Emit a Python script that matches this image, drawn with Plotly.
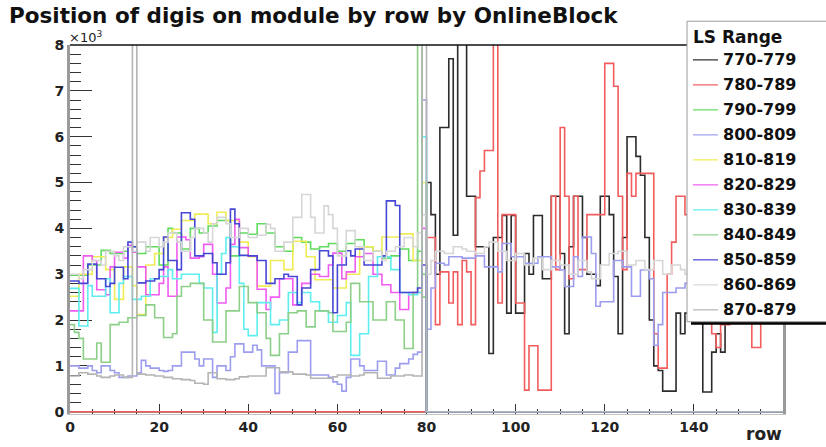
import plotly.graph_objects as go

# Lumi-section ranges, one histogram each
ls_ranges = ["770-779", "780-789", "790-799", "800-809", "810-819", "820-829",
             "830-839", "840-849", "850-859", "860-869", "870-879"]

# Bin edges along the module rows (1 row per bin)
row_edges = list(range(161))

# Digi counts per row, in units of 10^3 (rows 0-79 then rows 80-159)
ZERO_HALF = [0.0] * 80

digis_770 = ZERO_HALF + [
    5.0, 4.3, 3.0, 6.2, 6.2, 7.7, 3.85, 8.4, 8.4, 4.7,
    4.7, 3.6, 3.6, 3.6, 1.27, 3.8, 3.8, 4.28, 2.15, 4.28,
    2.15, 2.15, 3.45, 3.0, 4.28, 4.28, 2.9, 2.9, 4.7, 4.7,
    3.45, 1.7, 3.6, 4.7, 4.7, 3.8, 3.0, 3.0, 2.75, 4.7,
    4.7, 4.3, 2.95, 1.7, 3.8, 6.0, 6.0, 5.57, 5.16, 3.8,
    2.0, 1.0, 0.9, 0.45, 0.45, 0.45, 2.15, 1.7, 2.15, 2.6,
    3.2, 2.15, 0.43, 0.43, 1.3, 1.7, 1.3, 2.4, 3.0, 2.8,
    3.3, 2.6, 3.1, 2.9, 3.4, 2.7, 3.0, 2.5, 2.2, 2.6]

digis_780 = ZERO_HALF + [
    3.8, 3.8, 1.9, 3.05, 3.05, 2.37, 3.05, 1.9, 3.3, 3.05,
    1.9, 4.67, 5.25, 5.7, 5.7, 8.4, 2.37, 4.3, 4.3, 4.3,
    2.37, 2.37, 0.47, 1.44, 1.44, 0.47, 0.47, 0.47, 4.7, 3.1,
    6.2, 4.7, 2.9, 4.7, 3.1, 3.1, 4.3, 4.3, 4.3, 4.3,
    7.6, 7.6, 7.1, 4.7, 3.1, 5.2, 4.7, 5.2, 5.2, 5.2,
    5.2, 1.7, 0.95, 0.95, 3.0, 3.7, 4.7, 4.7, 4.3, 3.0,
    2.5, 3.4, 2.8, 2.2, 1.7, 1.4, 1.9, 1.9, 2.6, 3.0,
    2.4, 2.9, 2.5, 1.4, 1.4, 2.6, 3.1, 2.5, 2.2, 2.4]

digis_790 = [
    2.98, 2.98, 2.98, 2.98, 3.2, 3.2, 3.2, 3.52, 3.52, 3.45,
    3.45, 3.45, 3.5, 3.6, 3.6, 3.45, 3.45, 3.6, 3.6, 3.6,
    3.2, 3.2, 4.0, 3.9, 3.9, 3.55, 3.55, 4.0, 4.0, 3.9,
    3.9, 4.05, 4.05, 4.17, 4.17, 4.17, 3.4, 3.4, 3.9, 3.9,
    3.87, 3.87, 4.1, 4.1, 3.9, 3.9, 3.6, 3.6, 3.5, 3.5,
    3.8, 3.8, 3.7, 3.7, 3.55, 3.55, 3.6, 3.6, 3.67, 3.67,
    3.5, 3.5, 3.67, 3.67, 3.75, 3.75, 3.6, 3.6, 3.5, 3.5,
    3.35, 3.35, 3.4, 3.4, 3.55, 3.55, 3.3, 3.3, 3.5, 3.0] + ZERO_HALF

digis_800 = [
    1.0, 1.0, 0.95, 0.95, 1.0, 0.9, 0.85, 1.0, 1.0, 0.9,
    0.85, 0.75, 0.75, 0.78, 0.78, 0.85, 1.12, 1.0, 0.95, 0.95,
    0.9, 0.88, 0.9, 1.0, 1.0, 1.3, 1.3, 1.3, 1.15, 1.0,
    1.15, 1.15, 0.75, 1.0, 1.0, 0.9, 1.2, 1.48, 1.48, 1.3,
    1.3, 1.45, 1.35, 1.0, 1.0, 1.0, 0.4, 0.85, 0.85, 1.3,
    1.3, 1.55, 1.55, 1.55, 0.8, 0.8, 0.8, 0.8, 0.75, 0.65,
    0.6, 0.45, 0.75, 1.15, 1.15, 1.0, 0.9, 0.9, 0.9, 1.1,
    1.1, 0.8, 0.8, 0.95, 1.05, 1.05, 1.15, 1.25, 1.3, 6.8,
    1.8, 2.7, 3.24, 3.24, 3.2, 3.38, 3.38, 3.38, 3.35, 3.35,
    3.35, 3.4, 3.4, 3.16, 3.16, 3.16, 3.05, 3.67, 3.67, 3.38,
    3.38, 3.38, 3.24, 3.24, 3.24, 3.38, 3.38, 3.38, 3.16, 3.16,
    3.09, 2.73, 2.73, 3.38, 2.95, 3.81, 3.81, 3.45, 2.3, 2.4,
    2.4, 2.4, 3.3, 3.3, 3.16, 3.16, 2.52, 2.52, 3.09, 3.09,
    2.9, 1.45, 1.9, 2.6, 2.6, 2.6, 2.7, 2.7, 2.8, 2.9,
    2.7, 2.6, 2.8, 3.0, 2.7, 2.5, 2.6, 2.8, 2.9, 2.7,
    2.6, 2.5, 2.7, 2.8, 2.6, 2.4, 2.5, 2.7, 2.6, 2.4]

digis_810 = [
    2.52, 2.52, 3.0, 3.0, 3.0, 3.38, 3.38, 3.38, 3.1, 3.1,
    2.45, 2.45, 3.16, 3.16, 2.75, 2.12, 2.12, 3.2, 3.2, 3.45,
    3.45, 3.8, 3.8, 3.98, 3.98, 4.17, 4.17, 4.17, 4.31, 4.31,
    4.31, 4.1, 4.1, 4.35, 4.35, 4.17, 4.17, 4.17, 3.7, 3.7,
    3.38, 3.38, 2.74, 2.74, 2.74, 3.3, 3.3, 3.3, 3.1, 3.1,
    3.72, 3.72, 3.72, 3.38, 3.38, 2.88, 2.88, 2.88, 2.88, 2.7,
    2.7, 2.7, 3.0, 3.0, 3.0, 3.6, 3.6, 3.6, 3.5, 3.5,
    3.81, 3.81, 3.81, 3.81, 3.88, 3.88, 3.88, 3.3, 3.3, 5.0] + ZERO_HALF

digis_820 = [
    2.2, 2.2, 2.2, 3.4, 3.4, 3.3, 2.66, 2.66, 2.55, 3.16,
    3.48, 3.48, 3.35, 3.63, 3.48, 3.16, 3.16, 2.55, 2.55, 2.55,
    2.8, 3.16, 2.52, 2.52, 3.81, 3.81, 3.75, 3.35, 3.35, 3.38,
    3.65, 3.65, 3.0, 2.37, 2.37, 2.7, 3.65, 4.2, 3.58, 3.58,
    3.4, 3.4, 2.67, 2.67, 2.23, 2.5, 2.5, 2.9, 2.9, 2.9,
    2.33, 2.33, 2.8, 2.8, 3.0, 3.0, 2.95, 2.95, 3.2, 3.46,
    3.46, 2.9, 3.05, 3.05, 3.38, 3.38, 3.45, 3.45, 3.0, 3.0,
    2.77, 2.77, 2.6, 2.6, 2.23, 2.23, 2.6, 2.6, 2.6, 4.0] + ZERO_HALF

digis_830 = [
    2.69, 2.69, 1.87, 1.87, 2.75, 2.52, 2.52, 2.52, 2.9, 2.16,
    2.16, 2.8, 2.95, 2.95, 2.45, 2.45, 2.52, 2.52, 2.9, 2.9,
    2.95, 2.95, 3.1, 2.9, 2.9, 3.0, 3.0, 3.0, 3.0, 2.8,
    2.7, 2.7, 1.73, 3.0, 3.45, 3.8, 3.6, 3.6, 2.8, 1.8,
    1.66, 1.66, 2.38, 2.38, 2.38, 1.9, 1.9, 2.0, 2.0, 2.6,
    2.6, 2.38, 2.6, 2.6, 2.4, 2.4, 2.2, 2.2, 1.95, 1.95,
    2.1, 2.1, 2.38, 1.23, 1.23, 1.7, 1.7, 2.95, 2.95, 3.38,
    3.38, 3.38, 3.1, 3.1, 2.6, 2.6, 2.55, 2.55, 2.6, 6.0] + ZERO_HALF

digis_840 = [
    1.9, 1.73, 1.6, 1.15, 1.15, 1.15, 1.5, 1.08, 1.08, 1.9,
    1.9, 1.95, 1.95, 2.05, 2.05, 2.1, 2.1, 2.33, 2.33, 2.05,
    2.05, 1.62, 1.62, 1.7, 2.52, 2.73, 2.73, 2.8, 2.8, 2.8,
    2.0, 2.0, 1.52, 1.52, 1.52, 2.2, 2.2, 2.2, 2.73, 2.73,
    2.38, 2.38, 2.16, 2.16, 1.6, 1.23, 1.23, 1.7, 1.7, 2.16,
    2.16, 2.2, 2.2, 1.85, 1.85, 2.2, 2.2, 2.2, 2.16, 1.75,
    1.75, 1.75, 1.95, 2.8, 2.8, 2.4, 2.4, 2.4, 2.0, 2.0,
    2.0, 2.4, 2.4, 2.0, 2.0, 1.38, 1.38, 2.6, 8.4, 2.5] + ZERO_HALF

digis_850 = [
    2.85, 2.85, 2.8, 2.8, 3.22, 3.22, 2.9, 2.9, 2.73, 2.8,
    3.15, 3.15, 2.9, 3.7, 3.6, 2.81, 2.81, 2.85, 2.85, 2.9,
    3.1, 3.81, 3.3, 3.3, 3.1, 4.34, 4.34, 4.2, 3.4, 3.4,
    3.45, 3.45, 3.25, 3.0, 3.0, 3.25, 4.42, 4.1, 3.41, 3.41,
    3.4, 3.4, 3.3, 3.3, 2.8, 2.8, 2.9, 2.9, 3.0, 2.95,
    2.95, 2.33, 2.7, 2.7, 3.1, 3.1, 3.51, 3.51, 3.4, 2.16,
    3.2, 3.2, 3.51, 3.4, 3.55, 3.55, 3.2, 3.2, 3.2, 3.2,
    3.4, 4.6, 4.6, 4.5, 2.6, 2.6, 2.6, 2.6, 2.7, 3.2] + ZERO_HALF

digis_860 = [
    3.0, 3.0, 2.9, 3.1, 3.1, 3.3, 3.3, 3.2, 3.5, 3.5,
    3.4, 3.3, 3.6, 3.6, 3.5, 3.7, 3.7, 3.5, 3.8, 3.8,
    3.6, 3.7, 3.9, 3.9, 3.7, 3.5, 3.5, 3.8, 4.0, 4.0,
    3.9, 3.7, 4.1, 4.24, 4.24, 4.1, 3.8, 3.8, 4.0, 4.0,
    3.8, 3.8, 3.85, 3.85, 4.09, 4.0, 3.5, 3.5, 3.7, 3.7,
    4.24, 4.24, 4.74, 4.74, 4.24, 3.9, 3.9, 4.49, 4.3, 4.0,
    3.4, 3.4, 3.95, 3.95, 3.6, 3.6, 3.3, 3.3, 3.5, 3.5,
    3.3, 3.5, 3.5, 3.6, 3.6, 3.8, 3.8, 3.6, 3.9, 4.3,
    3.0, 3.3, 3.5, 3.5, 3.45, 3.45, 3.6, 3.6, 3.55, 3.5,
    3.5, 3.45, 3.45, 3.6, 3.7, 3.7, 3.5, 3.5, 3.3, 3.3,
    3.45, 3.45, 3.2, 3.2, 3.35, 3.35, 3.1, 3.1, 3.3, 3.3,
    3.2, 3.2, 3.0, 3.0, 3.3, 3.3, 3.05, 2.9, 2.9, 3.2,
    3.2, 3.45, 3.45, 3.5, 3.5, 3.2, 3.2, 3.3, 3.3, 3.1,
    3.1, 3.3, 3.3, 3.0, 3.0, 3.2, 3.2, 3.1, 3.0, 3.2,
    3.1, 2.9, 3.0, 3.2, 3.1, 2.9, 2.8, 3.0, 3.1, 2.9,
    2.8, 3.0, 2.9, 2.7, 2.8, 3.0, 2.9, 2.7, 2.6, 2.5]

digis_870 = [
    0.78, 0.78, 0.85, 0.85, 0.82, 0.82, 0.78, 0.75, 0.75, 0.78,
    0.8, 0.8, 0.75, 0.75, 8.4, 0.82, 0.82, 0.8, 0.8, 0.78,
    0.78, 0.75, 0.75, 0.72, 0.72, 0.7, 0.7, 0.68, 0.62, 0.62,
    0.6, 0.85, 0.85, 0.72, 0.72, 0.7, 0.7, 0.72, 0.76, 0.76,
    0.78, 0.78, 0.78, 0.78, 0.96, 0.96, 0.96, 0.87, 0.87, 0.87,
    0.82, 0.82, 0.82, 0.8, 0.73, 0.73, 0.73, 0.73, 0.73, 0.76,
    0.8, 0.8, 0.8, 0.78, 0.78, 0.8, 0.85, 0.85, 0.85, 0.73,
    0.73, 0.73, 0.78, 0.78, 0.78, 0.8, 0.8, 0.78, 0.78, 8.4] + ZERO_HALF

series = [digis_770, digis_780, digis_790, digis_800, digis_810, digis_820,
          digis_830, digis_840, digis_850, digis_860, digis_870]

line_colors = ["#2b2b2b", "#f25c5c", "#5fdc5f", "#9d9df0", "#f0ec55", "#ef5cef",
               "#5eeef0", "#8ccf88", "#4747d6", "#d6d6d6", "#b4b4b4"]

FONT = "DejaVu Sans"

# Plot-area geometry in pixels (used only to place labels/legend box)
W, H = 826, 447
PL, PR, PT, PB = 70, 783, 45, 417


def paper_x(px):
    return (px - PL) / (PR - PL)


def paper_y(py):
    return (PB - py) / (PB - PT)


fig = go.Figure()

for name, vals, col in zip(ls_ranges, series, line_colors):
    fig.add_trace(go.Scatter(
        x=row_edges, y=vals + [vals[-1]], mode="lines", name=name,
        line=dict(shape="hv", color=col, width=1.6), showlegend=False,
        hoverinfo="skip"))

shapes = []
annotations = []

# Black top edge of the frame
shapes.append(dict(type="line", xref="paper", yref="paper", layer="above",
                   x0=0, x1=1, y0=1, y1=1, line=dict(color="#111111", width=1.6)))

# Hand-drawn legend box in the ROOT style
box_l, box_r, box_t, box_b = 687, 830, 21, 324
shapes.append(dict(type="rect", xref="paper", yref="paper", layer="above",
                   x0=paper_x(box_l + 4), x1=paper_x(box_r + 4),
                   y0=paper_y(box_b + 3), y1=paper_y(box_t + 3),
                   fillcolor="#000000", line=dict(width=0)))
shapes.append(dict(type="rect", xref="paper", yref="paper", layer="above",
                   x0=paper_x(box_l), x1=paper_x(box_r),
                   y0=paper_y(box_b), y1=paper_y(box_t),
                   fillcolor="#ffffff", line=dict(color="#9a9a9a", width=1)))
annotations.append(dict(xref="paper", yref="paper", x=paper_x(691), y=paper_y(37),
                        text="<b>LS Range</b>", showarrow=False, xanchor="left",
                        yanchor="middle", font=dict(family=FONT, size=17, color="#111")))
for i, (name, col) in enumerate(zip(ls_ranges, line_colors)):
    yc = 60 + 25.2 * i
    shapes.append(dict(type="line", xref="paper", yref="paper", layer="above",
                       x0=paper_x(693), x1=paper_x(718), y0=paper_y(yc), y1=paper_y(yc),
                       line=dict(color=col, width=1.2)))
    annotations.append(dict(xref="paper", yref="paper", x=paper_x(721), y=paper_y(yc),
                            text="<b>" + name + "</b>", showarrow=False, xanchor="left",
                            yanchor="middle", font=dict(family=FONT, size=16, color="#111")))

# Exponent label on the y axis and x-axis title
annotations.append(dict(xref="paper", yref="paper", x=paper_x(67), y=paper_y(37),
                        text="×10<sup>3</sup>", showarrow=False, xanchor="left",
                        yanchor="middle", font=dict(family=FONT, size=13, color="#222")))
annotations.append(dict(xref="paper", yref="paper", x=paper_x(784), y=paper_y(437),
                        text="<b>row</b>", showarrow=False, xanchor="right",
                        yanchor="middle", font=dict(family=FONT, size=17, color="#222")))

fig.update_layout(
    width=W, height=H,
    margin=dict(l=PL, r=W - PR, t=PT, b=H - PB),
    paper_bgcolor="white", plot_bgcolor="white",
    title=dict(text="<b>Position of digis on module by row by OnlineBlock</b>",
               xref="container", yref="container", x=9 / W, y=1 - 15 / H,
               xanchor="left", yanchor="middle",
               font=dict(family=FONT, size=21.5, color="#111")),
    shapes=shapes, annotations=annotations,
    showlegend=False,
)

fig.update_xaxes(
    range=[0, 160], tickvals=[0, 20, 40, 60, 80, 100, 120, 140],
    ticks="inside", ticklen=10, tickwidth=1, tickcolor="#333",
    minor=dict(ticks="inside", ticklen=5, dtick=5, tick0=0, tickcolor="#333", showgrid=False),
    showline=True, linecolor="#c4c4c4", linewidth=1, mirror=False,
    showgrid=False, zeroline=False, layer="below traces",
    tickfont=dict(family=FONT, size=14, color="#222", weight="bold"),
)
fig.update_yaxes(
    range=[-0.05, 8], tickvals=[0, 1, 2, 3, 4, 5, 6, 7, 8],
    ticks="inside", ticklen=22, tickwidth=1, tickcolor="#333",
    minor=dict(ticks="inside", ticklen=11, dtick=0.2, tick0=0, tickcolor="#333", showgrid=False),
    showline=True, linecolor="#9a9a9a", linewidth=3, mirror=True,
    showgrid=False, zeroline=False, layer="below traces",
    tickfont=dict(family=FONT, size=14, color="#222", weight="bold"),
)

fig.write_html("out.html")
